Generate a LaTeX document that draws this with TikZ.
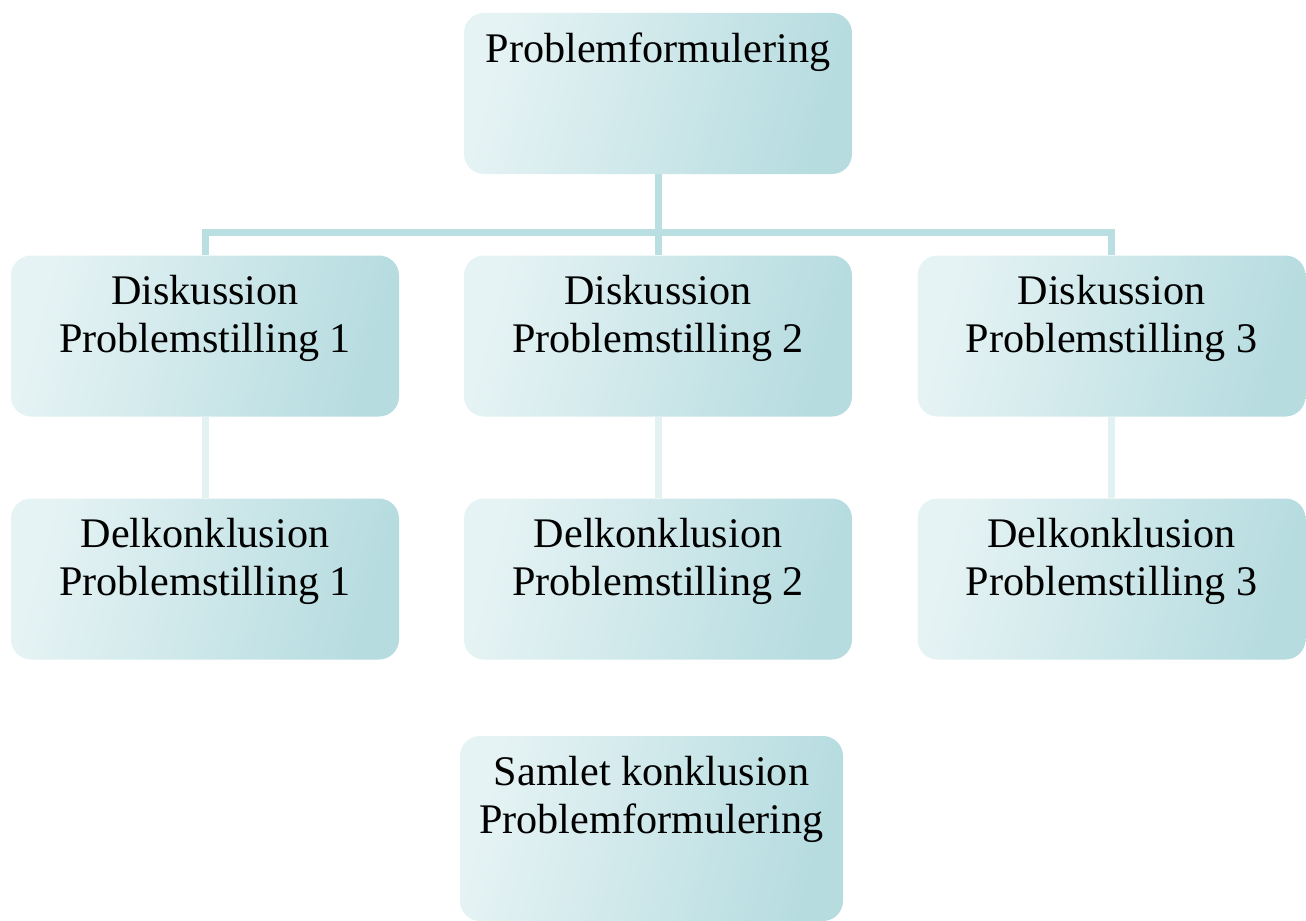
\documentclass[tikz,border=0pt]{standalone}
\usepackage{fontspec}
\setmainfont{Liberation Serif}
\usepackage{tikz}
\usetikzlibrary{positioning, calc, backgrounds}
\definecolor{boxlight}{HTML}{E6F3F4}
\definecolor{boxdark}{HTML}{B6DCE0}
\definecolor{linedark}{HTML}{B9DFE2}
\definecolor{linelight}{HTML}{E2F1F2}

\begin{document}
\begin{tikzpicture}[
  boxnode/.style={
    rectangle, rounded corners=0.4cm,
    minimum width=7.76cm, minimum height=3.22cm,
    left color=boxlight, right color=boxdark, shading angle=75,
    draw=none, inner sep=0pt
  },
  boxtext/.style={
    anchor=north, yshift=-0.4cm, inner sep=0pt,
    align=center, font=\fontsize{24}{27.2}\selectfont
  },
  trunk/.style={line width=0.14cm, linedark},
  branch/.style={line width=0.14cm, linelight}
]
  \useasboundingbox (0,0) rectangle (26.12,-18.42);

  \coordinate (bar) at (13.16,-4.64);

  \node[boxnode, label={[boxtext]north:Problemformulering}] (top) at (13.16,-1.87) {};

  \node[boxnode, label={[boxtext]north:Diskussion\\Problemstilling 1}] (d1) at (4.10,-6.72) {};
  \node[boxnode, label={[boxtext]north:Diskussion\\Problemstilling 2}] (d2) at (13.16,-6.72) {};
  \node[boxnode, label={[boxtext]north:Diskussion\\Problemstilling 3}] (d3) at (22.23,-6.72) {};

  \node[boxnode, label={[boxtext]north:Delkonklusion\\Problemstilling 1}] (k1) at (4.10,-11.58) {};
  \node[boxnode, label={[boxtext]north:Delkonklusion\\Problemstilling 2}] (k2) at (13.16,-11.58) {};
  \node[boxnode, label={[boxtext]north:Delkonklusion\\Problemstilling 3}] (k3) at (22.23,-11.58) {};

  \node[boxnode, minimum width=7.66cm, minimum height=3.70cm,
    label={[boxtext]north:Samlet konklusion\\Problemformulering}] (samlet) at (13.03,-16.57) {};

  % connectors behind the boxes
  \begin{scope}[on background layer]
    \draw[trunk] (top) -- (bar);
    \draw[trunk] (d1) -- (d1 |- bar) -- (d3 |- bar) -- (d3);
    \draw[trunk] (bar) -- (d2);
    \draw[branch] (d1) -- (k1);
    \draw[branch] (d2) -- (k2);
    \draw[branch] (d3) -- (k3);
  \end{scope}
\end{tikzpicture}
\end{document}
